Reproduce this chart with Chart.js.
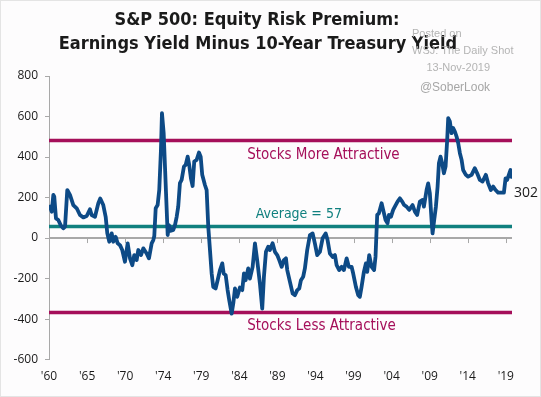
<!DOCTYPE html>
<html>
<head>
<meta charset="utf-8">
<script src="https://cdn.jsdelivr.net/npm/chart.js@4.4.0/dist/chart.umd.min.js"></script>
<style>
    html, body { margin: 0; padding: 0; background: #fff; }
    #wrap { width: 541px; height: 397px; }
</style>
</head>
<body>
<div id="wrap"><canvas id="erpChart" width="541" height="397"></canvas></div>
<script>
// S&P 500 equity risk premium (bps)
const years = [
    1960.13, 1960.35, 1960.56, 1960.68, 1960.90, 1961.20, 1961.51, 1961.85, 1962.07, 1962.36,
    1962.71, 1963.14, 1963.58, 1964.00, 1964.43, 1964.87, 1965.29, 1965.51, 1965.94, 1966.37,
    1966.62, 1967.01, 1967.32, 1967.53, 1967.79, 1968.10, 1968.30, 1968.61, 1968.87, 1969.17,
    1969.46, 1969.81, 1970.16, 1970.46, 1970.76, 1971.01, 1971.32, 1971.53, 1971.88, 1972.18,
    1972.61, 1972.91, 1973.26, 1973.47, 1973.60, 1973.78, 1974.03, 1974.24, 1974.46, 1974.59,
    1974.81, 1974.98, 1975.15, 1975.33, 1975.49, 1975.75, 1976.05, 1976.27, 1976.49, 1976.69,
    1976.91, 1977.13, 1977.43, 1977.65, 1977.91, 1978.11, 1978.33, 1978.55, 1978.76, 1979.07,
    1979.37, 1979.59, 1979.79, 1980.14, 1980.36, 1980.57, 1980.79, 1981.01, 1981.21, 1981.52,
    1981.78, 1982.08, 1982.38, 1982.56, 1982.82, 1983.07, 1983.28, 1983.59, 1983.80, 1984.02,
    1984.31, 1984.66, 1984.96, 1985.18, 1985.40, 1985.73, 1985.95, 1986.30, 1986.60, 1986.89,
    1987.24, 1987.54, 1987.76, 1988.02, 1988.31, 1988.53, 1988.88, 1989.18, 1989.48, 1989.74,
    1990.05, 1990.34, 1990.60, 1990.77, 1991.12, 1991.47, 1991.76, 1992.06, 1992.32, 1992.54,
    1992.83, 1993.05, 1993.35, 1993.70, 1994.05, 1994.34, 1994.64, 1994.99, 1995.34, 1995.73,
    1995.98, 1996.28, 1996.63, 1996.93, 1997.15, 1997.48, 1997.79, 1998.09, 1998.44, 1998.73,
    1999.08, 1999.29, 1999.64, 1999.94, 2000.15, 2000.37, 2000.67, 2000.93, 2001.10, 2001.36,
    2001.67, 2001.99, 2002.17, 2002.39, 2002.61, 2002.96, 2003.16, 2003.47, 2003.73, 2003.90,
    2004.16, 2004.45, 2004.67, 2005.02, 2005.32, 2005.62, 2005.87, 2006.18, 2006.52, 2006.96,
    2007.26, 2007.55, 2007.90, 2008.25, 2008.42, 2008.77, 2008.97, 2009.19, 2009.41, 2009.54,
    2009.75, 2009.97, 2010.19, 2010.36, 2010.57, 2010.78, 2011.00, 2011.22, 2011.43, 2011.56,
    2011.77, 2011.99, 2012.20, 2012.42, 2012.64, 2012.85, 2013.07, 2013.29, 2013.49, 2013.84,
    2014.14, 2014.58, 2015.00, 2015.30, 2015.65, 2016.00, 2016.42, 2016.72, 2017.07, 2017.37,
    2017.68, 2018.01, 2018.45, 2018.75, 2018.97, 2019.17, 2019.39, 2019.61, 2019.74
];
const premium = [
    155, 130, 213, 204, 97, 89, 64, 48, 56, 237,
    213, 163, 147, 114, 102, 109, 142, 114, 105, 172,
    195, 163, 105, 23, -18, 23, -18, 6, -26, -35,
    -59, -117, -26, -100, -134, -84, -109, -59, -84, -51,
    -76, -100, -26, -10, 10, 147, 163, 237, 435, 617,
    518, 353, 188, 15, 64, 36, 40, 64, 105, 155,
    271, 287, 353, 361, 402, 361, 295, 257, 378, 386,
    422, 402, 312, 262, 237, 56, -59, -175, -241, -249,
    -208, -158, -125, -175, -183, -257, -307, -373, -323, -249,
    -290, -244, -257, -175, -208, -150, -200, -142, -26, -109,
    -224, -348, -191, -68, -43, -59, -26, -68, -84, -109,
    -142, -109, -100, -158, -216, -274, -282, -257, -249, -208,
    -191, -150, -59, 15, 23, -26, -84, -68, -1, 23,
    -10, -76, -93, -84, -134, -158, -142, -158, -100, -142,
    -142, -175, -241, -282, -290, -241, -167, -125, -167, -84,
    -142, -158, -93, 114, 122, 172, 139, 89, 73, 114,
    105, 139, 155, 180, 196, 180, 163, 155, 139, 163,
    130, 114, 180, 188, 155, 237, 270, 221, 89, 23,
    89, 155, 254, 369, 402, 369, 320, 353, 485, 592,
    576, 518, 543, 526, 501, 469, 419, 386, 336, 312,
    303, 312, 345, 320, 287, 279, 312, 270, 237, 254,
    237, 224, 224, 224, 295, 287, 312, 336, 302
];

const xTickYears = [1960, 1964.92, 1969.83, 1974.75, 1979.67, 1984.58, 1989.5, 1994.42, 1999.33, 2004.25, 2009.17, 2014.08, 2019];
const xTickLabels = ["'60", "'65", "'70", "'74", "'79", "'84", "'89", "'94", "'99", "'04", "'09", "'14", "'19"];
const yTicks = [-600, -400, -200, 0, 200, 400, 600, 800];

const average = 57;
const upperBand = 481;
const lowerBand = -367;
const lastValue = 302;

const X_MIN = 1960;
const X_MAX = 2019.8;

const BLUE = '#0d4a86';
const MAGENTA = '#a50f5a';
const TEAL = '#10807f';

function hline(value) {
    return [{ x: X_MIN, y: value }, { x: X_MAX, y: value }];
}

const overlay = {
    id: 'overlay',
    beforeDraw(chart) {
        const ctx = chart.ctx;
        ctx.save();
        ctx.fillStyle = '#fdfcfd';
        ctx.fillRect(0, 0, chart.width, chart.height);
        ctx.strokeStyle = '#e4e4e4';
        ctx.lineWidth = 1;
        ctx.strokeRect(0.5, 0.5, chart.width - 1, chart.height - 1);

        // title
        ctx.fillStyle = '#1a1a1a';
        ctx.textAlign = 'center';
        ctx.textBaseline = 'middle';
        ctx.font = "bold 18px 'DejaVu Sans Condensed', 'DejaVu Sans', sans-serif";
        ctx.fillText('S&P 500: Equity Risk Premium:', 257, 20);
        ctx.fillText('Earnings Yield Minus 10-Year Treasury Yield', 258, 44);

        // source stamp
        ctx.fillStyle = '#b4b4b4';
        ctx.font = "11px 'Liberation Sans', Arial, sans-serif";
        ctx.textAlign = 'left';
        ctx.fillText('Posted on', 412, 34);
        ctx.fillText('WSJ: The Daily Shot', 412, 51);
        ctx.textAlign = 'right';
        ctx.fillText('13-Nov-2019', 490, 68);
        ctx.textAlign = 'center';
        ctx.fillStyle = '#a6a6a6';
        ctx.font = "12px 'Liberation Sans', Arial, sans-serif";
        ctx.fillText('@SoberLook', 455, 88);
        ctx.restore();
    },
    beforeDatasetsDraw(chart) {
        // x axis line sits at zero, tick marks hang below it
        const { ctx, chartArea, scales } = chart;
        const y0 = scales.y.getPixelForValue(0);
        ctx.save();
        ctx.strokeStyle = '#a8a8a8';
        ctx.lineWidth = 2;
        ctx.beginPath();
        ctx.moveTo(chartArea.left, y0);
        ctx.lineTo(chartArea.right, y0);
        ctx.stroke();
        ctx.lineWidth = 1;
        ctx.beginPath();
        xTickYears.forEach(v => {
            const x = Math.round(scales.x.getPixelForValue(v)) + 0.5;
            ctx.moveTo(x, y0);
            ctx.lineTo(x, y0 + 5);
        });
        ctx.stroke();
        ctx.restore();
    },
    afterDatasetsDraw(chart) {
        const { ctx, scales } = chart;
        const xs = scales.x, ys = scales.y;
        ctx.save();
        ctx.textBaseline = 'middle';
        ctx.textAlign = 'left';
        ctx.font = "15px 'DejaVu Sans Condensed', 'DejaVu Sans', sans-serif";

        ctx.fillStyle = MAGENTA;
        ctx.fillText('Stocks More Attractive', xs.getPixelForValue(1985.6), ys.getPixelForValue(upperBand) + 14);
        ctx.fillText('Stocks Less Attractive', xs.getPixelForValue(1985.6), ys.getPixelForValue(lowerBand) + 14);

        ctx.fillStyle = TEAL;
        ctx.font = "14px 'DejaVu Sans Condensed', 'DejaVu Sans', sans-serif";
        ctx.fillText('Average = ' + average, xs.getPixelForValue(1986.7), ys.getPixelForValue(average) - 12);

        ctx.fillStyle = '#1a1a1a';
        ctx.font = "14px 'Open Sans', sans-serif";
        ctx.fillText(String(lastValue), chart.chartArea.right + 2, ys.getPixelForValue(lastValue) + 16);
        ctx.restore();
    }
};

const ctx = document.getElementById('erpChart');

new Chart(ctx, {
    type: 'line',
    data: {
        datasets: [
            {
                label: 'Equity risk premium',
                data: years.map((x, i) => ({ x: x, y: premium[i] })),
                borderColor: BLUE,
                borderWidth: 3.8,
                borderJoinStyle: 'round',
                borderCapStyle: 'round',
                pointRadius: 0,
                tension: 0,
                order: 0
            },
            {
                label: 'Stocks more attractive',
                data: hline(upperBand),
                borderColor: MAGENTA,
                borderWidth: 3.5,
                pointRadius: 0,
                order: 1
            },
            {
                label: 'Average',
                data: hline(average),
                borderColor: TEAL,
                borderWidth: 3.5,
                pointRadius: 0,
                order: 1
            },
            {
                label: 'Stocks less attractive',
                data: hline(lowerBand),
                borderColor: MAGENTA,
                borderWidth: 3.5,
                pointRadius: 0,
                order: 1
            }
        ]
    },
    options: {
        responsive: false,
        animation: false,
        devicePixelRatio: 1,
        layout: {
            padding: { top: 76, right: 29, bottom: 11, left: 0 }
        },
        plugins: {
            legend: { display: false },
            tooltip: { enabled: false }
        },
        scales: {
            x: {
                type: 'linear',
                min: X_MIN,
                max: X_MAX,
                grid: { display: false },
                border: { display: false },
                afterBuildTicks: scale => {
                    scale.ticks = xTickYears.map(v => ({ value: v }));
                },
                ticks: {
                    autoSkip: false,
                    maxRotation: 0,
                    padding: 2,
                    color: '#1a1a1a',
                    font: { family: "'Open Sans', sans-serif", size: 12 },
                    callback: (value, index) => xTickLabels[index]
                }
            },
            y: {
                min: -600,
                max: 800,
                afterBuildTicks: scale => {
                    scale.ticks = yTicks.map(v => ({ value: v }));
                },
                afterFit: scale => {
                    scale.width = 49;
                },
                grid: {
                    drawOnChartArea: false,
                    tickLength: 4,
                    color: '#a8a8a8'
                },
                border: { display: true, color: '#a8a8a8', width: 1 },
                ticks: {
                    padding: 7,
                    color: '#1a1a1a',
                    font: { family: "'Open Sans', sans-serif", size: 12 }
                }
            }
        }
    },
    plugins: [overlay]
});
</script>
</body>
</html>
